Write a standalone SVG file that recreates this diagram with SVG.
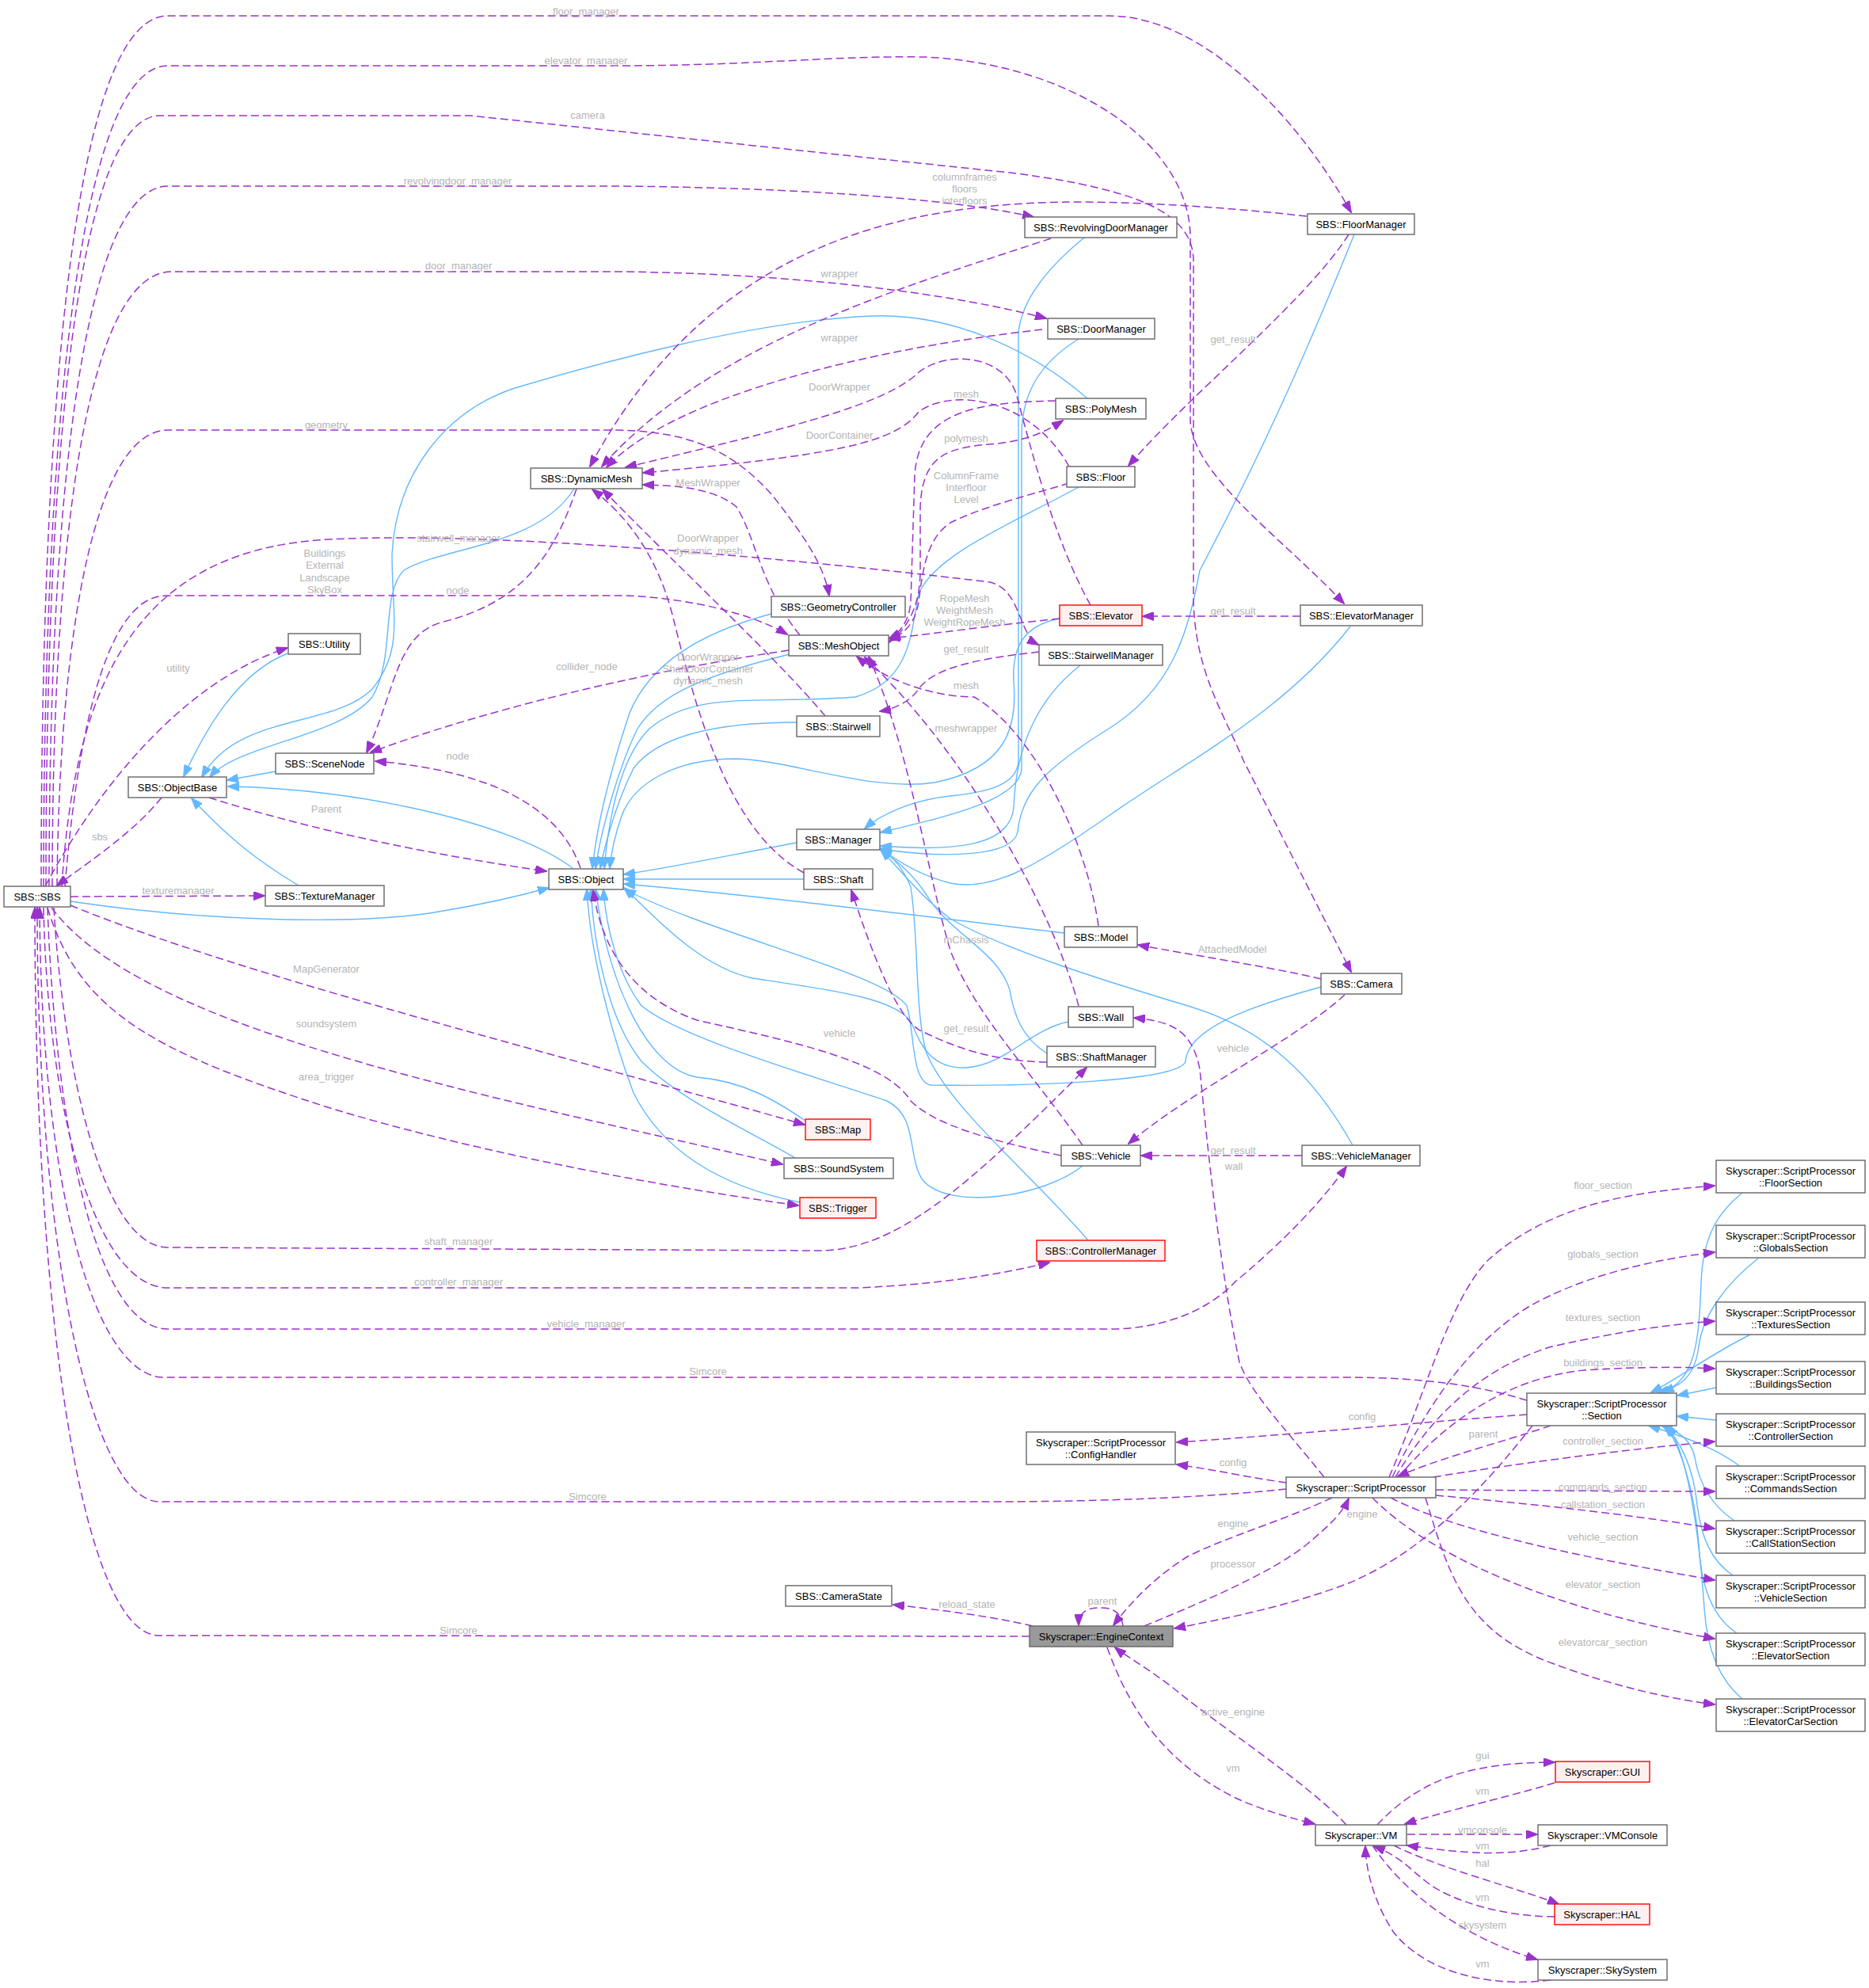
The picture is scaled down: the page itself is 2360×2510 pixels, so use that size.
<svg xmlns="http://www.w3.org/2000/svg" width="2360" height="2510" viewBox="0 0 2360 2510">
<style>
.u{fill:none;stroke:#9a32cd;stroke-width:1.5;stroke-dasharray:10,5;marker-end:url(#ap)}
.i{fill:none;stroke:#63b8ff;stroke-width:1.4;marker-end:url(#ab)}
.el{font-family:"Liberation Sans",Arial,Helvetica,sans-serif;font-size:13px;fill:#b4b4b4;text-anchor:middle}
.nb{fill:#ffffff;stroke:#666666;stroke-width:1.4}
.nr{fill:#fff0f0;stroke:#ff0000;stroke-width:1.4}
.ng{fill:#999999;stroke:#666666;stroke-width:1.4}
.nt{font-family:"Liberation Sans",Arial,Helvetica,sans-serif;font-size:13px;fill:#000000;text-anchor:middle}
</style>
<defs>
<marker id="ap" markerWidth="15" markerHeight="11" refX="14" refY="5.5" orient="auto" markerUnits="userSpaceOnUse"><path d="M0,0 L15,5.5 L0,11 z" fill="#9a32cd" stroke="#9a32cd" stroke-width="1"/></marker>
<marker id="ab" markerWidth="15" markerHeight="11" refX="14" refY="5.5" orient="auto" markerUnits="userSpaceOnUse"><path d="M0,0 L15,5.5 L0,11 z" fill="#63b8ff" stroke="#63b8ff" stroke-width="1"/></marker>
</defs>
<rect x="0" y="0" width="2360" height="2510" fill="#ffffff"/>
<g id="edges">
<!-- inheritance -->
<path class="i" d="M363,825 C300,850 260,920 232,980"/>
<path class="i" d="M348,974 L287,985"/>
<path class="i" d="M377,1118 C330,1090 290,1060 242,1008"/>
<path class="i" d="M723,1096 C650,1040 450,995 288,993"/>
<path class="i" d="M725,617 C680,690 560,690 510,720 C480,750 500,830 470,880 C430,930 300,940 265,981"/>
<path class="i" d="M1373,503 C1300,440 1200,395 1100,399 C950,405 750,460 650,490 C560,520 500,600 495,700 C495,780 510,820 470,870 C420,920 300,900 255,981"/>
<path class="i" d="M89,1138 C250,1162 450,1170 560,1150 C620,1140 660,1130 693,1121"/>
<path class="i" d="M1006,1064 C920,1080 850,1095 788,1104"/>
<path class="i" d="M1015,1110 L788,1110"/>
<path class="i" d="M1344,1178 C1150,1155 950,1130 788,1116"/>
<path class="i" d="M1006,912 C900,912 830,930 800,970 C780,1010 765,1060 758,1096"/>
<path class="i" d="M997,826 C880,855 830,880 805,920 C785,960 760,1040 752,1096"/>
<path class="i" d="M974,775 C880,800 820,840 795,900 C775,960 755,1030 748,1096"/>
<path class="i" d="M1362,615 C1280,660 1180,700 1160,750 C1150,800 1150,860 1080,880 C960,890 880,870 820,920 C780,960 768,1040 763,1096"/>
<path class="i" d="M1338,781 C1290,790 1278,820 1280,860 C1285,920 1270,970 1180,988 C1100,1000 1000,960 930,958 C850,958 800,990 785,1030 C778,1050 772,1075 770,1096"/>
<path class="i" d="M1349,1290 C1300,1300 1270,1345 1220,1348 C1170,1350 1160,1310 1150,1290 C1130,1260 1050,1250 950,1235 C880,1220 820,1150 788,1121"/>
<path class="i" d="M1367,1472 C1320,1510 1200,1530 1165,1490 C1145,1460 1160,1410 1120,1390 C1000,1350 860,1310 810,1270 C780,1230 765,1170 762,1123"/>
<path class="i" d="M1668,1246 C1620,1260 1500,1290 1497,1340 C1490,1365 1300,1372 1175,1370 C1150,1365 1155,1300 1145,1270 C1120,1230 900,1180 789,1123"/>
<path class="i" d="M1017,1415 C980,1390 940,1365 880,1360 C820,1350 770,1250 752,1123"/>
<path class="i" d="M1004,1462 C950,1430 860,1390 810,1340 C770,1290 750,1200 746,1123"/>
<path class="i" d="M1010,1518 C920,1500 840,1460 800,1380 C770,1300 745,1200 741,1123"/>
<path class="i" d="M1369,300 C1320,340 1290,380 1286,420 L1286,960 C1285,990 1250,1000 1200,1005 C1150,1010 1110,1030 1092,1046"/>
<path class="i" d="M1362,428 C1310,460 1290,500 1290,550 L1290,970 C1288,1010 1200,1030 1112,1051"/>
<path class="i" d="M1364,840 C1300,890 1282,960 1280,1020 C1275,1070 1200,1075 1112,1068"/>
<path class="i" d="M1705,791 C1620,900 1500,960 1400,1030 C1300,1100 1250,1125 1200,1115 C1160,1105 1130,1085 1112,1071"/>
<path class="i" d="M1710,296 C1660,420 1600,560 1515,720 C1500,800 1480,870 1400,920 C1320,970 1290,1000 1285,1050 C1280,1080 1200,1085 1112,1072"/>
<path class="i" d="M1322,1330 C1290,1310 1280,1280 1275,1250 C1260,1200 1200,1180 1170,1130 C1150,1100 1130,1085 1112,1073"/>
<path class="i" d="M1708,1446 C1660,1360 1600,1300 1500,1270 C1400,1240 1270,1200 1200,1160 C1160,1130 1130,1090 1112,1073"/>
<path class="i" d="M1374,1566 C1300,1480 1200,1400 1170,1330 C1155,1280 1160,1180 1150,1120 C1140,1095 1125,1080 1112,1073"/>
<path class="i" d="M2200,1506 C2170,1530 2150,1560 2148,1620 C2145,1700 2140,1740 2100,1758"/>
<path class="i" d="M2221,1588 C2180,1620 2150,1660 2145,1700 C2140,1740 2120,1752 2093,1758"/>
<path class="i" d="M2210,1685 C2160,1710 2120,1740 2085,1758"/>
<path class="i" d="M2167,1752 L2118,1762"/>
<path class="i" d="M2167,1793 L2118,1788"/>
<path class="i" d="M2198,1852 C2170,1830 2130,1815 2082,1800"/>
<path class="i" d="M2190,1920 C2160,1900 2145,1870 2140,1840 C2135,1815 2115,1805 2098,1800"/>
<path class="i" d="M2188,1989 C2160,1970 2148,1940 2143,1900 C2138,1850 2120,1815 2100,1800"/>
<path class="i" d="M2193,2062 C2160,2040 2148,2000 2145,1950 C2140,1880 2120,1820 2102,1800"/>
<path class="i" d="M2200,2145 C2170,2120 2155,2080 2152,2030 C2145,1930 2130,1830 2105,1800"/>
<!-- usage -->
<path class="u" d="M52,1119 C52,500 95,20 212,20 L1400,20 C1520,20 1640,150 1706,268"/>
<path class="u" d="M55,1119 C55,550 100,83 212,83 L780,83 C950,83 1050,70 1168,72 C1350,80 1503,180 1503,300 L1503,530 C1505,600 1620,680 1697,762"/>
<path class="u" d="M58,1119 C58,560 100,146 202,146 L594,146 L1284,219 C1440,240 1507,270 1507,330 L1507,760 C1510,850 1545,900 1570,960 L1706,1227"/>
<path class="u" d="M62,1119 C62,600 110,235 212,235 L780,235 C1000,237 1200,250 1305,274"/>
<path class="u" d="M66,1119 C66,650 115,343 217,343 L780,343 C1000,345 1200,370 1321,402"/>
<path class="u" d="M72,1119 C75,800 120,543 212,543 L780,543 C880,545 930,575 975,625 C1010,670 1040,710 1047,752"/>
<path class="u" d="M78,1119 C95,850 180,700 400,682 C600,668 1000,705 1250,735 C1290,745 1285,800 1311,814"/>
<path class="u" d="M82,1119 C100,900 140,752 210,752 L790,752 C870,755 950,775 994,801"/>
<path class="u" d="M728,617 C700,700 660,760 560,785 C500,800 500,870 463,950"/>
<path class="u" d="M57,1119 C120,1000 230,860 363,818"/>
<path class="u" d="M204,1007 C170,1050 110,1090 72,1118"/>
<path class="u" d="M89,1132 L334,1131"/>
<path class="u" d="M89,1143 C300,1230 700,1330 1016,1420"/>
<path class="u" d="M65,1146 C180,1300 600,1380 988,1470"/>
<path class="u" d="M60,1146 C100,1280 200,1330 420,1400 C620,1460 850,1500 1008,1522"/>
<path class="u" d="M68,1146 C80,1350 130,1575 212,1575 L1032,1579 C1130,1580 1220,1500 1372,1348"/>
<path class="u" d="M55,1146 C60,1400 120,1626 212,1626 L1082,1626 C1180,1622 1260,1610 1325,1594"/>
<path class="u" d="M60,1146 C70,1420 120,1678 212,1678 L1410,1678 C1480,1675 1530,1650 1560,1618 C1600,1585 1660,1530 1700,1473"/>
<path class="u" d="M1928,1768 C1870,1750 1800,1739 1700,1739 L207,1739 C120,1739 52,1500 50,1146"/>
<path class="u" d="M1624,1880 C1580,1885 1450,1896 1250,1896 L201,1896 C120,1896 47,1600 47,1146"/>
<path class="u" d="M1300,2066 L201,2065 C110,2065 44,1700 44,1146"/>
<path class="u" d="M264,1007 C400,1050 550,1080 690,1100"/>
<path class="u" d="M733,1096 C710,1030 640,975 474,961"/>
<path class="u" d="M996,821 C800,850 600,900 468,950"/>
<path class="u" d="M1327,301 C1150,360 900,430 760,589"/>
<path class="u" d="M1316,416 C1100,440 850,500 766,590"/>
<path class="u" d="M1650,273 C1550,262 1450,255 1350,255 C1150,258 900,300 745,589"/>
<path class="u" d="M1377,764 C1330,680 1300,560 1284,500 C1270,450 1200,440 1160,470 C1120,510 1000,540 790,590"/>
<path class="u" d="M1350,589 C1300,500 1200,490 1160,520 C1130,560 1050,575 812,597"/>
<path class="u" d="M1010,802 C960,740 955,680 930,640 C900,615 850,613 812,612"/>
<path class="u" d="M1333,506 C1230,508 1160,520 1155,600 L1150,760 C1148,785 1135,800 1123,806"/>
<path class="u" d="M1122,812 C1150,790 1162,760 1162,720 L1162,640 C1165,570 1200,565 1260,560 C1300,555 1320,545 1342,531"/>
<path class="u" d="M1350,610 C1300,625 1240,640 1200,660 C1170,680 1165,720 1160,760 C1155,790 1140,800 1123,809"/>
<path class="u" d="M1338,781 C1250,790 1180,800 1123,806"/>
<path class="u" d="M1703,296 C1650,380 1500,500 1425,588"/>
<path class="u" d="M1642,778 L1443,778"/>
<path class="u" d="M1312,823 C1250,830 1180,840 1160,870 C1150,885 1130,895 1111,898"/>
<path class="u" d="M1387,1169 C1370,1050 1300,920 1230,880 C1180,880 1120,860 1082,829"/>
<path class="u" d="M1362,1270 C1330,1150 1220,950 1092,830"/>
<path class="u" d="M1367,1446 C1300,1350 1230,1280 1200,1200 C1170,1100 1150,950 1097,829"/>
<path class="u" d="M1322,1341 C1250,1340 1200,1320 1160,1300 C1130,1280 1100,1200 1075,1124"/>
<path class="u" d="M1340,1459 C1250,1440 1180,1420 1150,1390 C1120,1340 1000,1315 880,1288 C800,1260 760,1200 749,1124"/>
<path class="u" d="M1698,1256 C1640,1310 1500,1380 1425,1444"/>
<path class="u" d="M1668,1236 C1600,1220 1500,1205 1437,1193"/>
<path class="u" d="M1644,1459 L1441,1459"/>
<path class="u" d="M1672,1865 C1620,1800 1580,1760 1565,1720 C1540,1600 1525,1450 1515,1350 C1505,1300 1480,1290 1432,1285"/>
<path class="u" d="M1928,1786 C1800,1795 1650,1810 1486,1821"/>
<path class="u" d="M1624,1872 C1580,1866 1530,1855 1486,1849"/>
<path class="u" d="M1958,1800 C1900,1820 1820,1840 1765,1864"/>
<path class="u" d="M1754,1865 C1800,1760 1830,1640 1880,1590 C1960,1520 2060,1505 2165,1497"/>
<path class="u" d="M1758,1865 C1800,1780 1850,1700 1930,1650 C2000,1610 2090,1590 2165,1581"/>
<path class="u" d="M1762,1865 C1800,1800 1860,1730 1960,1700 C2050,1680 2110,1672 2165,1668"/>
<path class="u" d="M1766,1865 C1820,1800 1900,1740 2000,1730 C2080,1725 2130,1726 2165,1728"/>
<path class="u" d="M1810,1865 C1900,1850 2050,1830 2165,1820"/>
<path class="u" d="M1813,1881 C1950,1882 2080,1883 2165,1883"/>
<path class="u" d="M1813,1888 C1950,1900 2080,1915 2165,1930"/>
<path class="u" d="M1756,1891 C1850,1940 2050,1975 2165,1995"/>
<path class="u" d="M1733,1891 C1800,1960 1950,2030 2165,2069"/>
<path class="u" d="M1800,1891 C1830,1990 1850,2060 1960,2100 C2040,2130 2110,2145 2165,2152"/>
<path class="u" d="M1682,1891 C1620,1920 1550,1940 1500,1965 C1460,1990 1430,2020 1406,2052"/>
<path class="u" d="M1935,1800 C1880,1870 1800,1960 1700,2000 C1620,2030 1540,2045 1483,2056"/>
<path class="u" d="M1445,2053 C1500,2030 1600,1990 1650,1950 C1680,1925 1695,1910 1703,1892"/>
<path class="u" d="M1418,2053 C1415,2030 1398,2030 1388,2030 C1372,2030 1362,2036 1362,2052"/>
<path class="u" d="M1304,2053 C1250,2040 1180,2032 1128,2026"/>
<path class="u" d="M1700,2304 C1650,2250 1540,2180 1480,2130 C1440,2100 1420,2090 1408,2080"/>
<path class="u" d="M1398,2080 C1430,2170 1480,2230 1560,2270 C1600,2288 1630,2295 1660,2303"/>
<path class="u" d="M1739,2304 C1790,2250 1850,2225 1963,2225"/>
<path class="u" d="M1963,2251 C1900,2270 1830,2285 1774,2303"/>
<path class="u" d="M1777,2316 L1941,2316"/>
<path class="u" d="M1958,2330 C1900,2345 1850,2340 1777,2330"/>
<path class="u" d="M1760,2330 C1820,2360 1920,2385 1968,2404"/>
<path class="u" d="M1963,2420 C1900,2420 1830,2400 1800,2375 C1780,2360 1770,2345 1735,2331"/>
<path class="u" d="M1733,2330 C1780,2400 1860,2450 1941,2474"/>
<path class="u" d="M1958,2500 C1880,2510 1800,2490 1760,2440 C1740,2410 1725,2370 1724,2331"/>
<path class="u" d="M1042,904 C980,830 860,720 761,618"/>
<path class="u" d="M1015,1102 C920,1050 880,900 850,780 C830,700 790,650 748,618"/>
<!-- labels -->
<text class="el" x="740" y="19">floor_manager</text>
<text class="el" x="740" y="81">elevator_manager</text>
<text class="el" x="742" y="150">camera</text>
<text class="el" x="578" y="233">revolvingdoor_manager</text>
<text class="el" x="579" y="340">door_manager</text>
<text class="el" x="412" y="541">geometry</text>
<text class="el" x="579" y="684">stairwell_manager</text>
<text class="el" x="410" y="703">Buildings</text>
<text class="el" x="410" y="718">External</text>
<text class="el" x="410" y="734">Landscape</text>
<text class="el" x="410" y="749">SkyBox</text>
<text class="el" x="578" y="750">node</text>
<text class="el" x="225" y="848">utility</text>
<text class="el" x="741" y="846">collider_node</text>
<text class="el" x="578" y="959">node</text>
<text class="el" x="412" y="1026">Parent</text>
<text class="el" x="126" y="1061">sbs</text>
<text class="el" x="225" y="1129">texturemanager</text>
<text class="el" x="412" y="1228">MapGenerator</text>
<text class="el" x="412" y="1297">soundsystem</text>
<text class="el" x="412" y="1364">area_trigger</text>
<text class="el" x="579" y="1572">shaft_manager</text>
<text class="el" x="579" y="1623">controller_manager</text>
<text class="el" x="740" y="1676">vehicle_manager</text>
<text class="el" x="894" y="1736">Simcore</text>
<text class="el" x="742" y="1894">Simcore</text>
<text class="el" x="579" y="2063">Simcore</text>
<text class="el" x="1218" y="228">columnframes</text>
<text class="el" x="1218" y="243">floors</text>
<text class="el" x="1218" y="258">interfloors</text>
<text class="el" x="1060" y="350">wrapper</text>
<text class="el" x="1060" y="431">wrapper</text>
<text class="el" x="1060" y="493">DoorWrapper</text>
<text class="el" x="1220" y="502">mesh</text>
<text class="el" x="1060" y="554">DoorContainer</text>
<text class="el" x="1220" y="558">polymesh</text>
<text class="el" x="1220" y="605">ColumnFrame</text>
<text class="el" x="1220" y="620">Interfloor</text>
<text class="el" x="1220" y="635">Level</text>
<text class="el" x="894" y="614">MeshWrapper</text>
<text class="el" x="894" y="684">DoorWrapper</text>
<text class="el" x="894" y="700">dynamic_mesh</text>
<text class="el" x="1218" y="760">RopeMesh</text>
<text class="el" x="1218" y="775">WeightMesh</text>
<text class="el" x="1218" y="790">WeightRopeMesh</text>
<text class="el" x="1220" y="824">get_result</text>
<text class="el" x="894" y="834">DoorWrapper</text>
<text class="el" x="894" y="849">ShaftDoorContainer</text>
<text class="el" x="894" y="864">dynamic_mesh</text>
<text class="el" x="1220" y="870">mesh</text>
<text class="el" x="1220" y="924">meshwrapper</text>
<text class="el" x="1220" y="1191">mChassis</text>
<text class="el" x="1220" y="1303">get_result</text>
<text class="el" x="1060" y="1309">vehicle</text>
<text class="el" x="1557" y="433">get_result</text>
<text class="el" x="1557" y="776">get_result</text>
<text class="el" x="1556" y="1203">AttachedModel</text>
<text class="el" x="1557" y="1328">vehicle</text>
<text class="el" x="1557" y="1457">get_result</text>
<text class="el" x="1558" y="1477">wall</text>
<text class="el" x="2024" y="1501">floor_section</text>
<text class="el" x="2024" y="1588">globals_section</text>
<text class="el" x="2024" y="1668">textures_section</text>
<text class="el" x="2024" y="1725">buildings_section</text>
<text class="el" x="1720" y="1793">config</text>
<text class="el" x="1873" y="1815">parent</text>
<text class="el" x="2024" y="1824">controller_section</text>
<text class="el" x="1557" y="1851">config</text>
<text class="el" x="2024" y="1882">commands_section</text>
<text class="el" x="2024" y="1904">callstation_section</text>
<text class="el" x="1720" y="1916">engine</text>
<text class="el" x="1557" y="1928">engine</text>
<text class="el" x="2024" y="1945">vehicle_section</text>
<text class="el" x="1557" y="1979">processor</text>
<text class="el" x="2024" y="2005">elevator_section</text>
<text class="el" x="1392" y="2026">parent</text>
<text class="el" x="1221" y="2030">reload_state</text>
<text class="el" x="2024" y="2078">elevatorcar_section</text>
<text class="el" x="1557" y="2166">active_engine</text>
<text class="el" x="1872" y="2221">gui</text>
<text class="el" x="1557" y="2237">vm</text>
<text class="el" x="1872" y="2266">vm</text>
<text class="el" x="1872" y="2315">vmconsole</text>
<text class="el" x="1872" y="2335">vm</text>
<text class="el" x="1872" y="2357">hal</text>
<text class="el" x="1872" y="2400">vm</text>
<text class="el" x="1872" y="2435">skysystem</text>
<text class="el" x="1872" y="2484">vm</text>
</g>
<g id="node-SBS"><rect class="nb" x="5" y="1119" width="84" height="26"/><text class="nt" x="47" y="1137">SBS::SBS</text></g>
<g id="node-Utility"><rect class="nb" x="364" y="800" width="91" height="26"/><text class="nt" x="409.5" y="818">SBS::Utility</text></g>
<g id="node-SceneNode"><rect class="nb" x="348" y="951" width="124" height="26"/><text class="nt" x="410" y="969">SBS::SceneNode</text></g>
<g id="node-ObjectBase"><rect class="nb" x="162" y="981" width="124" height="26"/><text class="nt" x="224" y="999">SBS::ObjectBase</text></g>
<g id="node-TextureManager"><rect class="nb" x="335" y="1118" width="150" height="26"/><text class="nt" x="410" y="1136">SBS::TextureManager</text></g>
<g id="node-DynamicMesh"><rect class="nb" x="670" y="591" width="141" height="26"/><text class="nt" x="740.5" y="609">SBS::DynamicMesh</text></g>
<g id="node-Object"><rect class="nb" x="693" y="1097" width="94" height="26"/><text class="nt" x="740" y="1115">SBS::Object</text></g>
<g id="node-GeometryController"><rect class="nb" x="974" y="753" width="169" height="26"/><text class="nt" x="1058.5" y="771">SBS::GeometryController</text></g>
<g id="node-MeshObject"><rect class="nb" x="996" y="802" width="126" height="26"/><text class="nt" x="1059" y="820">SBS::MeshObject</text></g>
<g id="node-Stairwell"><rect class="nb" x="1006" y="904" width="105" height="26"/><text class="nt" x="1058.5" y="922">SBS::Stairwell</text></g>
<g id="node-Manager"><rect class="nb" x="1006" y="1047" width="105" height="26"/><text class="nt" x="1058.5" y="1065">SBS::Manager</text></g>
<g id="node-Shaft"><rect class="nb" x="1015" y="1097" width="87" height="26"/><text class="nt" x="1058.5" y="1115">SBS::Shaft</text></g>
<g id="node-Map"><rect class="nr" x="1017" y="1413" width="82" height="26"/><text class="nt" x="1058" y="1431">SBS::Map</text></g>
<g id="node-SoundSystem"><rect class="nb" x="990" y="1462" width="138" height="26"/><text class="nt" x="1059" y="1480">SBS::SoundSystem</text></g>
<g id="node-Trigger"><rect class="nr" x="1010" y="1512" width="96" height="26"/><text class="nt" x="1058" y="1530">SBS::Trigger</text></g>
<g id="node-CameraState"><rect class="nb" x="992" y="2002" width="134" height="26"/><text class="nt" x="1059" y="2020">SBS::CameraState</text></g>
<g id="node-RevolvingDoorManager"><rect class="nb" x="1294" y="274" width="192" height="26"/><text class="nt" x="1390" y="292">SBS::RevolvingDoorManager</text></g>
<g id="node-DoorManager"><rect class="nb" x="1323" y="402" width="135" height="26"/><text class="nt" x="1390.5" y="420">SBS::DoorManager</text></g>
<g id="node-PolyMesh"><rect class="nb" x="1333" y="503" width="114" height="26"/><text class="nt" x="1390" y="521">SBS::PolyMesh</text></g>
<g id="node-Floor"><rect class="nb" x="1347" y="589" width="86" height="26"/><text class="nt" x="1390" y="607">SBS::Floor</text></g>
<g id="node-Elevator"><rect class="nr" x="1338" y="764" width="104" height="26"/><text class="nt" x="1390" y="782">SBS::Elevator</text></g>
<g id="node-StairwellManager"><rect class="nb" x="1312" y="814" width="156" height="26"/><text class="nt" x="1390" y="832">SBS::StairwellManager</text></g>
<g id="node-Model"><rect class="nb" x="1344" y="1170" width="92" height="26"/><text class="nt" x="1390" y="1188">SBS::Model</text></g>
<g id="node-Wall"><rect class="nb" x="1349" y="1271" width="82" height="26"/><text class="nt" x="1390" y="1289">SBS::Wall</text></g>
<g id="node-ShaftManager"><rect class="nb" x="1322" y="1321" width="137" height="26"/><text class="nt" x="1390.5" y="1339">SBS::ShaftManager</text></g>
<g id="node-Vehicle"><rect class="nb" x="1340" y="1446" width="100" height="26"/><text class="nt" x="1390" y="1464">SBS::Vehicle</text></g>
<g id="node-ControllerManager"><rect class="nr" x="1309" y="1566" width="162" height="26"/><text class="nt" x="1390" y="1584">SBS::ControllerManager</text></g>
<g id="node-ConfigHandler"><rect class="nb" x="1296" y="1808" width="188" height="41"/><text class="nt" x="1390" y="1825.5">Skyscraper::ScriptProcessor</text><text class="nt" x="1390" y="1840.5">::ConfigHandler</text></g>
<g id="node-EngineContext"><rect class="ng" x="1300" y="2053" width="181" height="26"/><text class="nt" x="1390.5" y="2071">Skyscraper::EngineContext</text></g>
<g id="node-FloorManager"><rect class="nb" x="1651" y="270" width="135" height="26"/><text class="nt" x="1718.5" y="288">SBS::FloorManager</text></g>
<g id="node-ElevatorManager"><rect class="nb" x="1642" y="764" width="154" height="26"/><text class="nt" x="1719" y="782">SBS::ElevatorManager</text></g>
<g id="node-Camera"><rect class="nb" x="1668" y="1229" width="102" height="26"/><text class="nt" x="1719" y="1247">SBS::Camera</text></g>
<g id="node-VehicleManager"><rect class="nb" x="1644" y="1446" width="149" height="26"/><text class="nt" x="1718.5" y="1464">SBS::VehicleManager</text></g>
<g id="node-ScriptProcessor"><rect class="nb" x="1624" y="1865" width="189" height="26"/><text class="nt" x="1718.5" y="1883">Skyscraper::ScriptProcessor</text></g>
<g id="node-VM"><rect class="nb" x="1661" y="2304" width="115" height="26"/><text class="nt" x="1718.5" y="2322">Skyscraper::VM</text></g>
<g id="node-Section"><rect class="nb" x="1928" y="1759" width="189" height="41"/><text class="nt" x="2022.5" y="1776.5">Skyscraper::ScriptProcessor</text><text class="nt" x="2022.5" y="1791.5">::Section</text></g>
<g id="node-GUI"><rect class="nr" x="1964" y="2224" width="119" height="26"/><text class="nt" x="2023.5" y="2242">Skyscraper::GUI</text></g>
<g id="node-VMConsole"><rect class="nb" x="1942" y="2304" width="163" height="26"/><text class="nt" x="2023.5" y="2322">Skyscraper::VMConsole</text></g>
<g id="node-HAL"><rect class="nr" x="1963" y="2404" width="120" height="26"/><text class="nt" x="2023" y="2422">Skyscraper::HAL</text></g>
<g id="node-SkySystem"><rect class="nb" x="1942" y="2474" width="163" height="26"/><text class="nt" x="2023.5" y="2492">Skyscraper::SkySystem</text></g>
<g id="node-FloorSection"><rect class="nb" x="2167" y="1465" width="188" height="41"/><text class="nt" x="2261" y="1482.5">Skyscraper::ScriptProcessor</text><text class="nt" x="2261" y="1497.5">::FloorSection</text></g>
<g id="node-GlobalsSection"><rect class="nb" x="2167" y="1547" width="188" height="41"/><text class="nt" x="2261" y="1564.5">Skyscraper::ScriptProcessor</text><text class="nt" x="2261" y="1579.5">::GlobalsSection</text></g>
<g id="node-TexturesSection"><rect class="nb" x="2167" y="1644" width="188" height="41"/><text class="nt" x="2261" y="1661.5">Skyscraper::ScriptProcessor</text><text class="nt" x="2261" y="1676.5">::TexturesSection</text></g>
<g id="node-BuildingsSection"><rect class="nb" x="2167" y="1719" width="188" height="41"/><text class="nt" x="2261" y="1736.5">Skyscraper::ScriptProcessor</text><text class="nt" x="2261" y="1751.5">::BuildingsSection</text></g>
<g id="node-ControllerSection"><rect class="nb" x="2167" y="1785" width="188" height="41"/><text class="nt" x="2261" y="1802.5">Skyscraper::ScriptProcessor</text><text class="nt" x="2261" y="1817.5">::ControllerSection</text></g>
<g id="node-CommandsSection"><rect class="nb" x="2167" y="1851" width="188" height="41"/><text class="nt" x="2261" y="1868.5">Skyscraper::ScriptProcessor</text><text class="nt" x="2261" y="1883.5">::CommandsSection</text></g>
<g id="node-CallStationSection"><rect class="nb" x="2167" y="1920" width="188" height="41"/><text class="nt" x="2261" y="1937.5">Skyscraper::ScriptProcessor</text><text class="nt" x="2261" y="1952.5">::CallStationSection</text></g>
<g id="node-VehicleSection"><rect class="nb" x="2167" y="1989" width="188" height="41"/><text class="nt" x="2261" y="2006.5">Skyscraper::ScriptProcessor</text><text class="nt" x="2261" y="2021.5">::VehicleSection</text></g>
<g id="node-ElevatorSection"><rect class="nb" x="2167" y="2062" width="188" height="41"/><text class="nt" x="2261" y="2079.5">Skyscraper::ScriptProcessor</text><text class="nt" x="2261" y="2094.5">::ElevatorSection</text></g>
<g id="node-ElevatorCarSection"><rect class="nb" x="2167" y="2145" width="188" height="41"/><text class="nt" x="2261" y="2162.5">Skyscraper::ScriptProcessor</text><text class="nt" x="2261" y="2177.5">::ElevatorCarSection</text></g>
</svg>
